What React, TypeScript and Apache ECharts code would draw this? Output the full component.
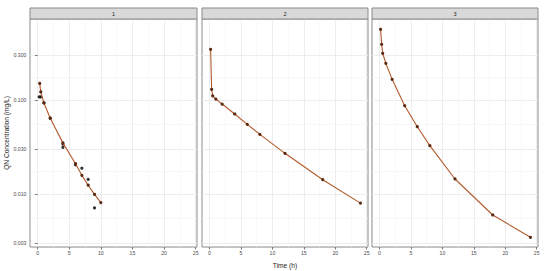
import React, { useEffect, useRef } from "react";
import * as echarts from "echarts";

const panelNames = ["1", "2", "3"];

const predTime1 = [0.333, 0.5, 1, 2, 4, 6, 7, 8, 9, 10];
const predConc1 = [0.15, 0.122, 0.093, 0.064, 0.035, 0.021, 0.0158, 0.0124, 0.0099, 0.0081];
const obsTime1 = [0.25, 0.5, 1, 2, 4, 4, 6, 7, 8, 9];
const obsConc1 = [0.108, 0.108, 0.093, 0.064, 0.0314, 0.034, 0.0204, 0.0188, 0.0143, 0.0071];

const predTime2 = [0.167, 0.333, 0.5, 1, 2, 4, 6, 8, 12, 18, 24];
const predConc2 = [0.346, 0.13, 0.111, 0.1025, 0.0906, 0.071, 0.0551, 0.0431, 0.0271, 0.0142, 0.008];

const predTime3 = [0.167, 0.333, 0.5, 1, 2, 4, 6, 8, 12, 18, 24];
const predConc3 = [0.565, 0.392, 0.314, 0.246, 0.166, 0.0869, 0.052, 0.0327, 0.01445, 0.00598, 0.00346];

const yTickValues = [0.003, 0.01, 0.03, 0.1, 0.3];
const xTickValues = [0, 5, 10, 15, 20, 25];
const xMinorValues = [2.5, 7.5, 12.5, 17.5, 22.5];

const FONT = "Liberation Sans, Arial, sans-serif";

export default function App() {
  const ref = useRef<HTMLDivElement>(null);

  useEffect(() => {
    if (!ref.current) return;
    const chart = echarts.init(ref.current, undefined, { renderer: "svg" });

    const lg = (v: number) => Math.log10(v);
    const yMin = lg(0.00273);
    const yMax = lg(0.728);
    const yMajor = yTickValues.map(lg);
    const yMinor = yMajor.slice(0, -1).map((v, i) => (v + yMajor[i + 1]) / 2);
    const xMin = -1.2;
    const xMax = 25.2;

    const panelsX = [
      { left: 30, width: 167 },
      { left: 202, width: 166 },
      { left: 372, width: 166 },
    ];
    const top = 19;
    const height = 228;

    const grids: any[] = [];
    const xAxes: any[] = [];
    const yAxes: any[] = [];
    const graphics: any[] = [];

    panelsX.forEach((p, i) => {
      grids.push({
        left: p.left,
        top,
        width: p.width,
        height,
        show: true,
        borderColor: "#8a8a8a",
        borderWidth: 1,
        backgroundColor: "#ffffff",
        containLabel: false,
        outerBoundsMode: "none",
        z: 0,
      });
      // major x axis
      xAxes.push({
        type: "value",
        gridIndex: i,
        min: xMin,
        max: xMax,
        axisLine: { show: false },
        axisTick: { show: true, length: 2.5, lineStyle: { color: "#555", width: 0.8 }, customValues: xTickValues },
        axisLabel: {
          show: true,
          customValues: xTickValues,
          fontSize: 5.2,
          color: "#4d4d4d",
          fontFamily: FONT,
          margin: 3.5,
        },
        splitLine: { show: true, lineStyle: { color: "#ebebeb", width: 0.9 } },
        name: i === 1 ? "Time (h)" : "",
        nameLocation: "middle",
        nameGap: 14.5,
        nameTextStyle: { fontSize: 6.6, color: "#1a1a1a", fontFamily: FONT },
      });
      // minor x axis
      xAxes.push({
        type: "value",
        gridIndex: i,
        min: xMin,
        max: xMax,
        axisLine: { show: false },
        axisTick: { show: false, customValues: xMinorValues },
        axisLabel: { show: false, customValues: xMinorValues },
        splitLine: { show: true, lineStyle: { color: "#f3f3f3", width: 0.6 } },
      });
      yAxes.push({
        type: "value",
        gridIndex: i,
        min: yMin,
        max: yMax,
        axisLine: { show: false },
        axisTick: { show: i === 0, length: 2.5, lineStyle: { color: "#555", width: 0.8 }, customValues: yMajor },
        axisLabel: {
          show: i === 0,
          customValues: yMajor,
          formatter: (v: number) => Math.pow(10, v).toFixed(3),
          fontSize: 5.2,
          color: "#4d4d4d",
          fontFamily: FONT,
          margin: 3.5,
        },
        splitLine: { show: true, lineStyle: { color: "#ebebeb", width: 0.9 } },
        name: i === 0 ? "QN Concentration (mg/L)" : "",
        nameLocation: "middle",
        nameGap: 20,
        nameTextStyle: { fontSize: 6.6, color: "#1a1a1a", fontFamily: FONT },
      });
      yAxes.push({
        type: "value",
        gridIndex: i,
        min: yMin,
        max: yMax,
        axisLine: { show: false },
        axisTick: { show: false, customValues: yMinor },
        axisLabel: { show: false, customValues: yMinor },
        splitLine: { show: true, lineStyle: { color: "#f3f3f3", width: 0.6 } },
      });
      graphics.push({
        type: "rect",
        shape: { x: p.left, y: 8, width: p.width, height: 11 },
        style: { fill: "#d9d9d9", stroke: "#8a8a8a", lineWidth: 1 },
        z: 10,
      });
      graphics.push({
        type: "text",
        x: p.left + p.width / 2,
        y: 13.5,
        style: {
          text: panelNames[i],
          fontSize: 5.5,
          fill: "#1a1a1a",
          fontFamily: FONT,
          align: "center",
          verticalAlign: "middle",
        },
        z: 11,
      });
    });

    const lineColor = "#b35a2c";
    const dotColor = "#5a2a12";
    const mkPred = (t: number[], c: number[], idx: number) => ({
      type: "line",
      xAxisIndex: idx * 2,
      yAxisIndex: idx * 2,
      data: t.map((x, k) => [x, lg(c[k])]),
      symbol: "circle",
      symbolSize: 3.2,
      showSymbol: true,
      lineStyle: { color: lineColor, width: 1.1 },
      itemStyle: { color: dotColor },
      z: 3,
    });

    const series: any[] = [
      {
        type: "scatter",
        xAxisIndex: 0,
        yAxisIndex: 0,
        data: obsTime1.map((x, k) => [x, lg(obsConc1[k])]),
        symbol: "circle",
        symbolSize: 3.2,
        itemStyle: { color: "#000000" },
        z: 2,
      },
      mkPred(predTime1, predConc1, 0),
      mkPred(predTime2, predConc2, 1),
      mkPred(predTime3, predConc3, 2),
    ];

    chart.setOption({
      animation: false,
      backgroundColor: "#ffffff",
      grid: grids,
      xAxis: xAxes,
      yAxis: yAxes,
      series,
      graphic: graphics,
    });

    return () => chart.dispose();
  }, []);

  return (
    <div
      ref={ref}
      style={{ position: "absolute", left: 0, top: 0, width: 550, height: 271 }}
    />
  );
}
